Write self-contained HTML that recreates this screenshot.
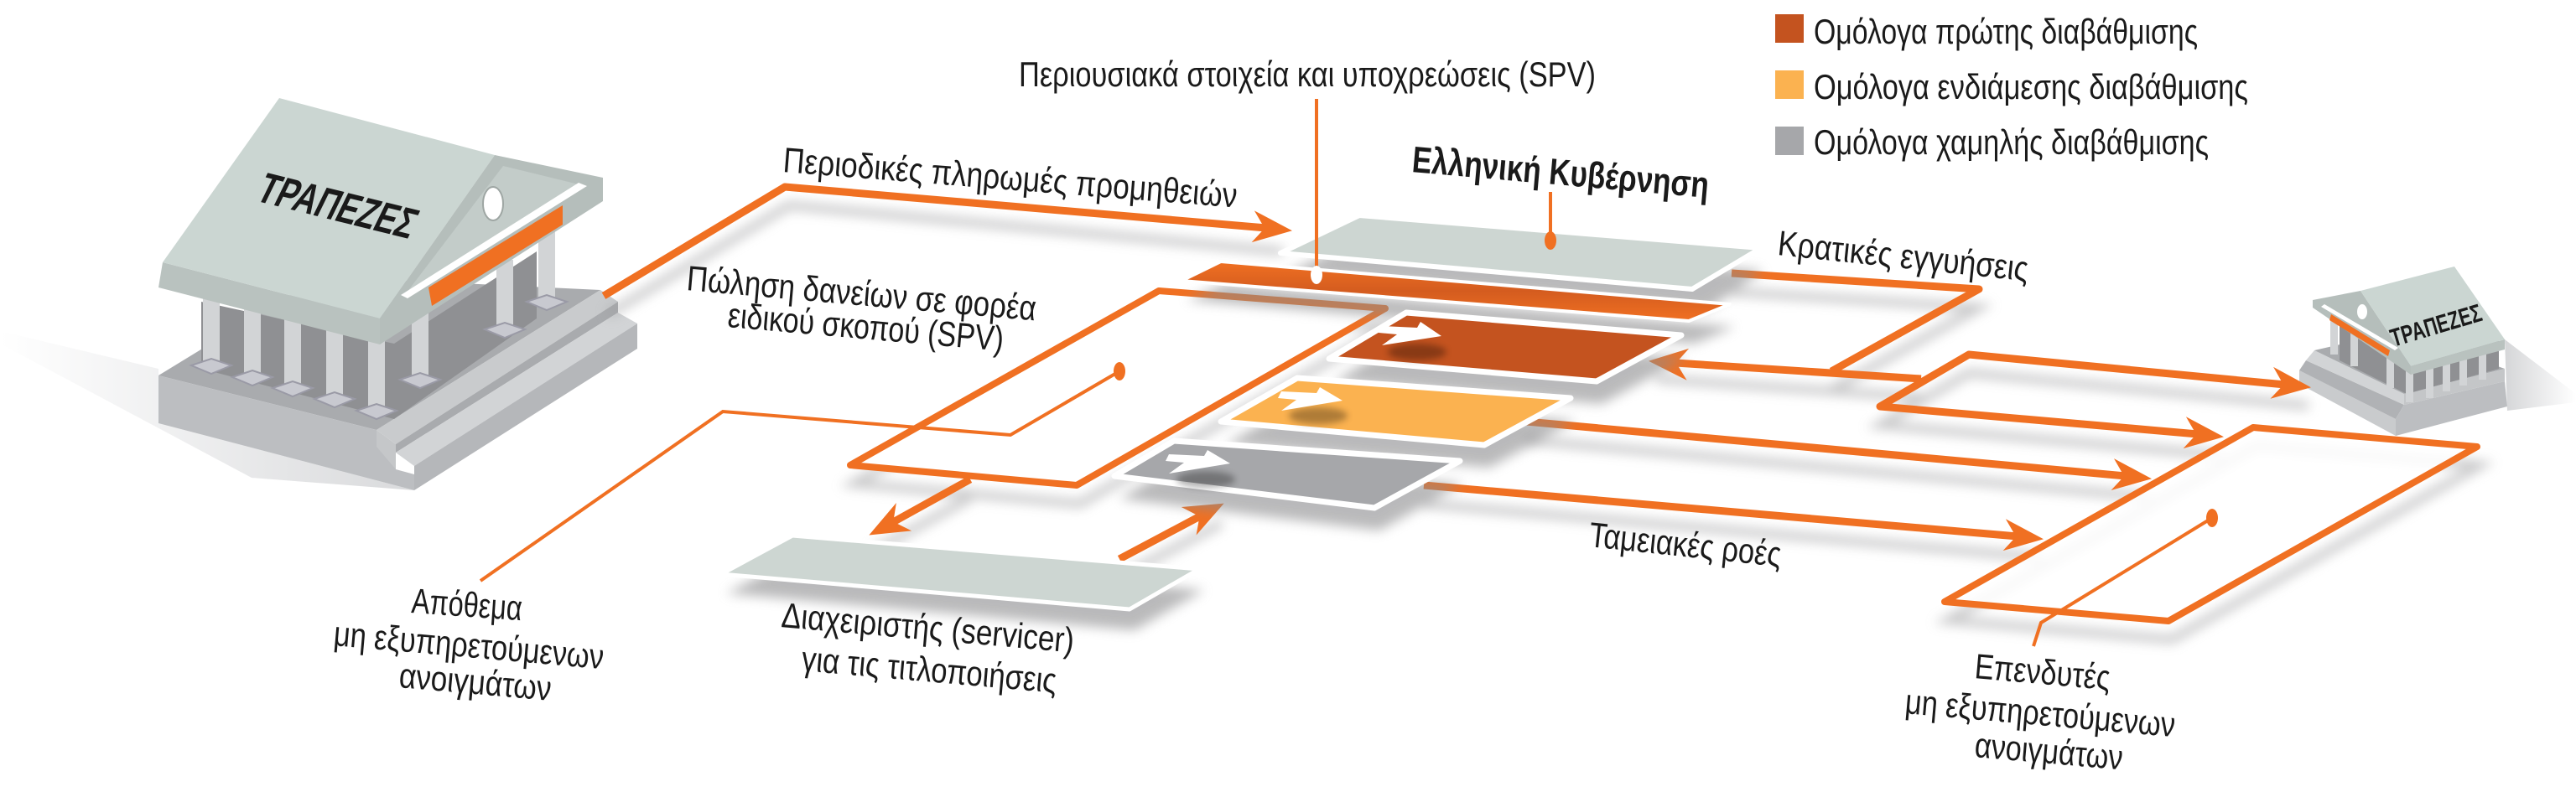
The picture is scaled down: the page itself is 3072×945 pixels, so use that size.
<!DOCTYPE html>
<html><head><meta charset="utf-8"><style>
html,body{margin:0;padding:0;background:#fff}
svg{display:block}
text{font-family:"Liberation Sans Narrow","Liberation Sans",sans-serif;fill:#1a1a1a}
</style></head><body>
<svg width="3072" height="945" viewBox="0 0 3072 945" xmlns="http://www.w3.org/2000/svg">
<defs>
<filter id="sh" x="-20%" y="-20%" width="140%" height="160%"><feGaussianBlur stdDeviation="7"/></filter>
<filter id="sh2" x="-20%" y="-20%" width="140%" height="160%"><feGaussianBlur stdDeviation="4"/></filter>
<linearGradient id="bsh" x1="0" y1="0" x2="1" y2="0"><stop offset="0" stop-color="#fff"/><stop offset="1" stop-color="#d9dadc"/></linearGradient>
<linearGradient id="bsh2" x1="0" y1="0" x2="1" y2="0"><stop offset="0" stop-color="#d5d6d8"/><stop offset="1" stop-color="#fff"/></linearGradient>
<linearGradient id="og" x1="0" y1="0" x2="0" y2="1"><stop offset="0" stop-color="#f07022"/><stop offset="0.5" stop-color="#d45c1f"/><stop offset="1" stop-color="#f07022"/></linearGradient>
<path id="ahd" d="M3,0 L-44,-20 L-30,0 L-44,18 Z"/>
</defs>

<!-- legend -->
<rect x="2117" y="17" width="34" height="34" fill="#c4531f"/>
<rect x="2117" y="84" width="34" height="34" fill="#fbb250"/>
<rect x="2117" y="151" width="34" height="34" fill="#a6a7aa"/>
<text x="2163" y="52" font-size="42" textLength="458" lengthAdjust="spacingAndGlyphs">Ομόλογα πρώτης διαβάθμισης</text>
<text x="2163" y="118" font-size="42" textLength="518" lengthAdjust="spacingAndGlyphs">Ομόλογα ενδιάμεσης διαβάθμισης</text>
<text x="2163" y="184" font-size="42" textLength="471" lengthAdjust="spacingAndGlyphs">Ομόλογα χαμηλής διαβάθμισης</text>

<!-- left bank shadow -->
<polygon points="0,395 189,440 189,505 494,585 300,570 0,410" fill="url(#bsh)"/>
<!-- left bank base -->
<polygon points="189,448 382,330 716,346 449,513" fill="#a9abae"/>
<polygon points="189,448 449,513 449,533 472,540 472,560 494,566 494,585 189,505" fill="#bcbec1"/>
<polygon points="449,513 716,346 737,360 472,530" fill="#c9cbcd"/>
<polygon points="472,530 737,360 737,373 472,540" fill="#a9abae"/>
<polygon points="472,540 737,373 760,386 494,556" fill="#d2d4d6"/>
<polygon points="494,556 760,386 760,416 494,585" fill="#b5b7ba"/>
<polygon points="449,513 472,530 472,560 449,533" fill="#c5c7c9"/>
<!-- back wall -->
<polygon points="240,360 470,410 640,300 640,380 470,500 240,440" fill="#8f9093"/>
<!-- columns -->
<g fill="#d2d4d6">
<rect x="242" y="348" width="20" height="88"/><rect x="291" y="360" width="20" height="90"/>
<rect x="339" y="372" width="20" height="91"/><rect x="389" y="384" width="20" height="92"/>
<rect x="439" y="396" width="20" height="94"/><rect x="491" y="370" width="20" height="83"/>
<rect x="592" y="310" width="20" height="83"/><rect x="642" y="270" width="20" height="90"/>
</g>
<g fill="#c8c9d0" stroke="#9a9aa6" stroke-width="2">
<polygon points="228,436 252,428 276,436 252,446"/><polygon points="277,450 301,442 325,450 301,460"/>
<polygon points="325,463 349,455 373,463 349,473"/><polygon points="375,476 399,468 423,476 399,486"/>
<polygon points="425,490 449,482 473,490 449,500"/><polygon points="477,453 501,445 525,453 501,463"/>
<polygon points="578,393 602,385 626,393 602,403"/><polygon points="628,360 652,352 676,360 652,370"/>
</g>
<!-- roof -->
<polygon points="194,313 453,380 453,411 189,343" fill="#b9c2bf"/>
<polygon points="333,117 590,185 453,380 194,313" fill="#cbd6d2"/>
<polygon points="590,185 719,212 719,240 453,411 453,380" fill="#b5bebb"/>
<polygon points="600,198 690,220 482,353" fill="#c3ccc9"/>
<polygon points="690,218 700,222 486,356 478,352" fill="#fff"/>
<polygon points="511,343 671,245 671,268 515,365" fill="#f07022"/>
<ellipse cx="588" cy="243" rx="12" ry="20" fill="#fff" stroke="#9ea6a3" stroke-width="2"/>
<text transform="translate(395,262) rotate(14) skewX(-12)" text-anchor="middle" font-size="52" font-weight="bold" textLength="190" lengthAdjust="spacingAndGlyphs">ΤΡΑΠΕΖΕΣ</text>

<!-- right bank shadow -->
<polygon points="2987,405 3072,470 3072,480 2990,490" fill="url(#bsh2)"/>
<!-- right bank base -->
<polygon points="2742,442 2857,500 2857,520 2742,458" fill="#c9cbcd"/>
<polygon points="2750,430 2867,483 2857,500 2742,442" fill="#b0b2b5"/>
<polygon points="2760,418 2867,470 2867,483 2750,430" fill="#d2d4d6"/>
<polygon points="2760,418 2860,395 2987,440 2867,470" fill="#a9abae"/>
<polygon points="2857,500 2867,483 2987,455 2990,485 2857,520" fill="#bcbec1"/>
<polygon points="2867,470 2987,440 2987,455 2867,483" fill="#c4c6c8"/>
<polygon points="2790,385 2860,410 2980,400 2980,440 2870,470 2790,430" fill="#8f9093"/>
<g fill="#d2d4d6">
<rect x="2779" y="380" width="9" height="43"/><rect x="2803" y="388" width="9" height="49"/><rect x="2846" y="410" width="9" height="53"/>
<rect x="2869" y="440" width="9" height="40"/><rect x="2893" y="437" width="9" height="38"/><rect x="2913" y="432" width="9" height="35"/>
<rect x="2933" y="428" width="9" height="32"/><rect x="2956" y="423" width="9" height="30"/>
</g>
<polygon points="2758,358 2815,347 2875,437 2875,447 2758,367" fill="#b5bebb"/>
<polygon points="2772,363 2860,415 2856,418 2768,366" fill="#fff"/>
<polygon points="2780,375 2850,418 2848,425 2778,382" fill="#f07022"/>
<ellipse cx="2817" cy="372" rx="6" ry="9" fill="#fff"/>
<polygon points="2875,437 2987,405 2987,417 2875,447" fill="#b9c2bf"/>
<polygon points="2815,347 2927,318 2987,405 2875,437" fill="#cbd6d2"/>
<text transform="translate(2908,398) rotate(-16.5)" text-anchor="middle" font-size="30" font-weight="bold" textLength="112" lengthAdjust="spacingAndGlyphs">ΤΡΑΠΕΖΕΣ</text>

<!-- connector shadows -->
<g stroke="#9c9c9e" stroke-width="10" fill="none" opacity="0.55" filter="url(#sh)">
<polyline points="725,375 941,245 1530,300"/>
<polygon points="1018,577 1386,369 1656,390 1288,601"/>
<polyline points="2065,348 2360,367 2184,465"/>
<polyline points="2291,474 1975,452"/>
<polyline points="2753,484 2348,445 2242,507 2649,543"/>
<polyline points="1820,525 2563,593"/>
<polyline points="1698,601 2434,665"/>
<polygon points="2323,740 2691,532 2958,555 2590,763"/>
<polyline points="1157,594 1039,659"/>
<polyline points="1335,689 1457,624"/>
</g>

<!-- SPV box -->
<polygon points="1014,555 1382,347 1652,368 1284,579" fill="#fff" stroke="#f07022" stroke-width="8" stroke-linejoin="round"/>
<!-- apothema pointer -->
<polyline points="1335,443 1205,519 862,491 573,693" fill="none" stroke="#f07022" stroke-width="4"/>
<ellipse cx="1335" cy="443" rx="7" ry="11" fill="#f07022"/>

<!-- connectors -->
<g stroke="#f07022" stroke-width="9" fill="none" stroke-linejoin="round">
<polyline points="720,353 936,223 1510,272"/>
<polyline points="2065,326 2360,345 2184,443"/>
<polyline points="2291,452 1998,433"/>
<polyline points="2725,459 2348,423 2242,485 2621,518"/>
<polyline points="1820,503 2535,568"/>
<polyline points="1698,579 2406,640"/>
<polyline points="1157,572 1065,623"/>
<polyline points="1335,667 1431,616"/>
</g>
<g fill="#f07022">
<use href="#ahd" transform="translate(1538,275) rotate(4.9)"/>
<use href="#ahd" transform="translate(1969,431) rotate(183.7)"/>
<use href="#ahd" transform="translate(2753,462) rotate(5.5)"/>
<use href="#ahd" transform="translate(2649,521) rotate(5)"/>
<use href="#ahd" transform="translate(2563,571) rotate(5.2)"/>
<use href="#ahd" transform="translate(2434,643) rotate(5)"/>
<use href="#ahd" transform="translate(1039,637) rotate(151.2)"/>
<use href="#ahd" transform="translate(1457,602) rotate(-28)"/>
</g>

<!-- investor box -->
<polygon points="2319,718 2687,510 2954,533 2586,741" fill="#fff" fill-opacity="0.85" stroke="#f07022" stroke-width="8" stroke-linejoin="round"/>
<polyline points="2638,618 2434,743 2425,771" fill="none" stroke="#f07022" stroke-width="4"/>
<ellipse cx="2638" cy="618" rx="7" ry="11" fill="#f07022"/>

<!-- plate shadows -->
<g fill="#8c8c8e" opacity="0.6" filter="url(#sh)">
<polygon points="1335,595 1406,553 1745,577 1645,633"/>
<polygon points="1462,530 1553,478 1879,502 1776,558"/>
<polygon points="1591,455 1683,400 2011,427 1910,482"/>
<polygon points="1415,358 1462,339 2069,390 2020,410"/>
<polygon points="1533,326 1627,284 2103,323 2036,370"/>
<polygon points="866,708 951,664 1436,704 1353,752"/>
</g>

<!-- gray plate -->
<polygon points="1329,568 1400,526 1741,550 1639,606" fill="#a6a7aa" stroke="#fff" stroke-width="7" stroke-linejoin="round"/>
<!-- yellow plate -->
<polygon points="1456,503 1547,451 1873,475 1770,531" fill="#fbb250" stroke="#fff" stroke-width="7" stroke-linejoin="round"/>
<!-- dark orange plate -->
<polygon points="1585,428 1677,373 2005,400 1904,455" fill="#c4531f" stroke="#fff" stroke-width="7" stroke-linejoin="round"/>
<!-- inner arrow shadows -->
<g fill="#000" opacity="0.3" filter="url(#sh2)">
<ellipse cx="1690" cy="420" rx="35" ry="10"/><ellipse cx="1572" cy="496" rx="35" ry="10"/><ellipse cx="1438" cy="572" rx="35" ry="10"/>
</g>
<!-- white arrows -->
<g fill="#fff">
<polygon points="1648,389 1690,391 1694,384 1719,401 1648,412 1666,399 1644,397"/>
<polygon points="1528,467 1570,469 1574,462 1601,478 1528,490 1546,477 1524,475"/>
<polygon points="1394,542 1436,544 1440,537 1467,553 1394,565 1412,552 1390,550"/>
</g>

<!-- orange SPV plate -->
<polygon points="1409,335 1456,312 2063,363 2014,383" fill="url(#og)" stroke="#fff" stroke-width="4" stroke-linejoin="round"/>
<!-- gov plate -->
<polygon points="1527,302 1621,257 2100,296 2018,345" fill="#cdd6d2" stroke="#fff" stroke-width="6" stroke-linejoin="round"/>

<!-- SPV vertical pointer -->
<line x1="1570" y1="118" x2="1570" y2="326" stroke="#f07022" stroke-width="4"/>
<ellipse cx="1570" cy="328" rx="7" ry="11" fill="#fff"/>
<!-- gov pointer -->
<line x1="1849" y1="229" x2="1849" y2="285" stroke="#f07022" stroke-width="4"/>
<ellipse cx="1849" cy="287" rx="7" ry="11" fill="#f07022"/>

<!-- servicer plate -->
<polygon points="860,685 945,639 1430,679 1347,727" fill="#cdd6d2" stroke="#fff" stroke-width="5" stroke-linejoin="round"/>

<!-- labels -->
<text x="1215" y="103" font-size="42" textLength="688" lengthAdjust="spacingAndGlyphs">Περιουσιακά στοιχεία και υποχρεώσεις (SPV)</text>
<text transform="translate(933,205) rotate(4.5)" font-size="42" textLength="543" lengthAdjust="spacingAndGlyphs">Περιοδικές πληρωμές προμηθειών</text>
<text transform="translate(1683,205) rotate(5)" font-size="44" font-weight="bold" textLength="355" lengthAdjust="spacingAndGlyphs">Ελληνική Κυβέρνηση</text>
<text transform="translate(2119,304) rotate(6)" font-size="42" textLength="300" lengthAdjust="spacingAndGlyphs">Κρατικές εγγυήσεις</text>
<text transform="translate(818,346) rotate(5)" font-size="42" textLength="418" lengthAdjust="spacingAndGlyphs">Πώληση δανείων σε φορέα</text>
<text transform="translate(867,390) rotate(5)" font-size="42" textLength="330" lengthAdjust="spacingAndGlyphs">ειδικού σκοπού (SPV)</text>
<text transform="translate(490,731) rotate(4)" font-size="42" textLength="132" lengthAdjust="spacingAndGlyphs">Απόθεμα</text>
<text transform="translate(397,770) rotate(5)" font-size="42" textLength="323" lengthAdjust="spacingAndGlyphs">μη εξυπηρετούμενων</text>
<text transform="translate(475,820) rotate(5)" font-size="42" textLength="182" lengthAdjust="spacingAndGlyphs">ανοιγμάτων</text>
<text transform="translate(931,748) rotate(5)" font-size="42" textLength="350" lengthAdjust="spacingAndGlyphs">Διαχειριστής (servicer)</text>
<text transform="translate(955,800) rotate(5)" font-size="42" textLength="305" lengthAdjust="spacingAndGlyphs">για τις τιτλοποιήσεις</text>
<text transform="translate(1894,652) rotate(6)" font-size="42" textLength="230" lengthAdjust="spacingAndGlyphs">Ταμειακές ροές</text>
<text transform="translate(2354,809) rotate(5)" font-size="42" textLength="162" lengthAdjust="spacingAndGlyphs">Επενδυτές</text>
<text transform="translate(2271,851) rotate(5)" font-size="42" textLength="323" lengthAdjust="spacingAndGlyphs">μη εξυπηρετούμενων</text>
<text transform="translate(2354,903) rotate(5)" font-size="42" textLength="177" lengthAdjust="spacingAndGlyphs">ανοιγμάτων</text>
</svg>
</body></html>
